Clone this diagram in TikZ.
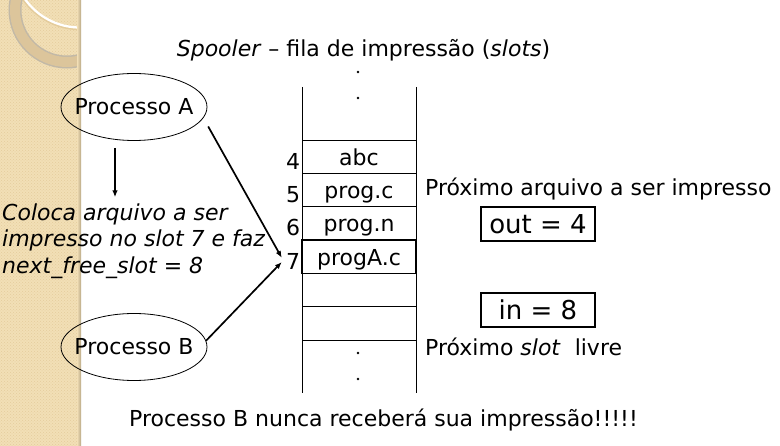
\documentclass[tikz,border=0pt]{standalone}
\usepackage{fontspec}
\setmainfont{DejaVu Sans}
\usetikzlibrary{shapes.geometric,arrows.meta,patterns}

\definecolor{faixa}{HTML}{F2DFB6}
\definecolor{faixaponto}{HTML}{E4CC9C}
\definecolor{anel}{HTML}{DCC59B}
\definecolor{borda}{HTML}{B9A886}

\tikzset{
  processo/.style={draw, ellipse, line width=0.8pt, minimum width=146pt, minimum height=67pt, inner sep=0pt},
  slot/.style={draw, line width=0.8pt, minimum width=114pt, minimum height=33.33pt, inner sep=0pt, text height=17pt, text depth=0pt},
  contador/.style={draw, line width=1.4pt, minimum width=114pt, minimum height=34pt, inner sep=0pt, font=\fontsize{26}{30}\selectfont},
  texto/.style={inner sep=0pt},
  seta/.style={-{Latex[length=7pt, width=5.5pt]}, line width=1.7pt},
}

\begin{document}
\fontsize{22}{26.5}\selectfont
\begin{tikzpicture}[x=1pt, y=-1pt]
    \useasboundingbox (0,0) rectangle (780,446);

    % faixa decorativa à esquerda
    \fill[faixa] (0,0) rectangle (80,446);
    \fill[pattern=crosshatch dots, pattern color=faixaponto] (0,0) rectangle (80,446);
    \begin{scope}
      \clip (0,0) rectangle (79,446);
      \draw[anel!70!black!60, line width=13pt] (67,10) circle (52);
      \draw[anel, line width=10pt] (67,10) circle (52);
      \draw[faixaponto, line width=1.5pt] (80,-40) circle (69.5);
      \draw[white, line width=2.2pt] (80,-40) circle (67.5);
    \end{scope}
    \shade[left color=faixa, right color=borda] (77,0) rectangle (81,446);

    % título
    \node[texto, anchor=base] (titulo) at (363.5,57) {\textit{Spooler} – fila de impressão (\textit{slots})};

    % fila de slots
    \draw[line width=1pt] (302,87) -- (302,393);
    \draw[line width=1pt] (416,87) -- (416,393);
    \node[slot] (s4) at (359,156.67) {abc};
    \node[slot] (s5) at (359,190) {prog.c};
    \node[slot] (s6) at (359,223.33) {prog.n};
    \node[slot, line width=1.2pt] (s7) at (359,256.67) {progA.c};
    \node[slot] (s8) at (359,290) {};
    \node[slot] (s9) at (359,323.33) {};

    % reticências
    \fill (358,72) circle (1.3);
    \fill (358,98) circle (1.3);
    \fill (358,353) circle (1.3);
    \fill (358,379) circle (1.3);

    % números dos slots
    \node[texto, anchor=base] (n4) at (293,170) {4};
    \node[texto, anchor=base] (n5) at (293,203) {5};
    \node[texto, anchor=base] (n6) at (293,236) {6};
    \node[anchor=base, inner sep=4pt] (n7) at (293,270) {7};

    % processos
    \node[processo] (procA) at (134,107) {\makebox[0pt]{Processo A}};
    \node[processo] (procB) at (134,347) {\makebox[0pt]{Processo B}};

    % ação do processo A
    \node[texto, anchor=north west, align=left, font=\itshape] (coloca) at (2,203.3)
      {Coloca arquivo a ser\\impresso no slot 7 e faz\\next\_free\_slot = 8};
    \coordinate (a0) at ([xshift=-19pt, yshift=-7pt]procA.south);
    \draw[seta, line width=1.4pt, shorten >=6pt] (a0) -- (a0 |- coloca.north);

    % ambos apontam para o slot 7
    \draw[seta, shorten <=9.7pt] (procA.-9.7) -- (n7.160);
    \draw[seta] (procB.5) -- (n7.west);

    % variáveis out e in
    \node[texto, anchor=base west] (prox) at (425,196) {Próximo arquivo a ser impresso};
    \node[contador] (out) at (538,224) {out = 4};
    \node[contador] (in) at (538,310) {in = 8};
    \node[texto, anchor=base west] (livre) at (425,356) {Próximo \textit{slot}~ livre};

    % conclusão
    \node[texto, anchor=base west] (aviso) at (129,427) {Processo B nunca receberá sua impressão!!!!!};
\end{tikzpicture}
\end{document}
